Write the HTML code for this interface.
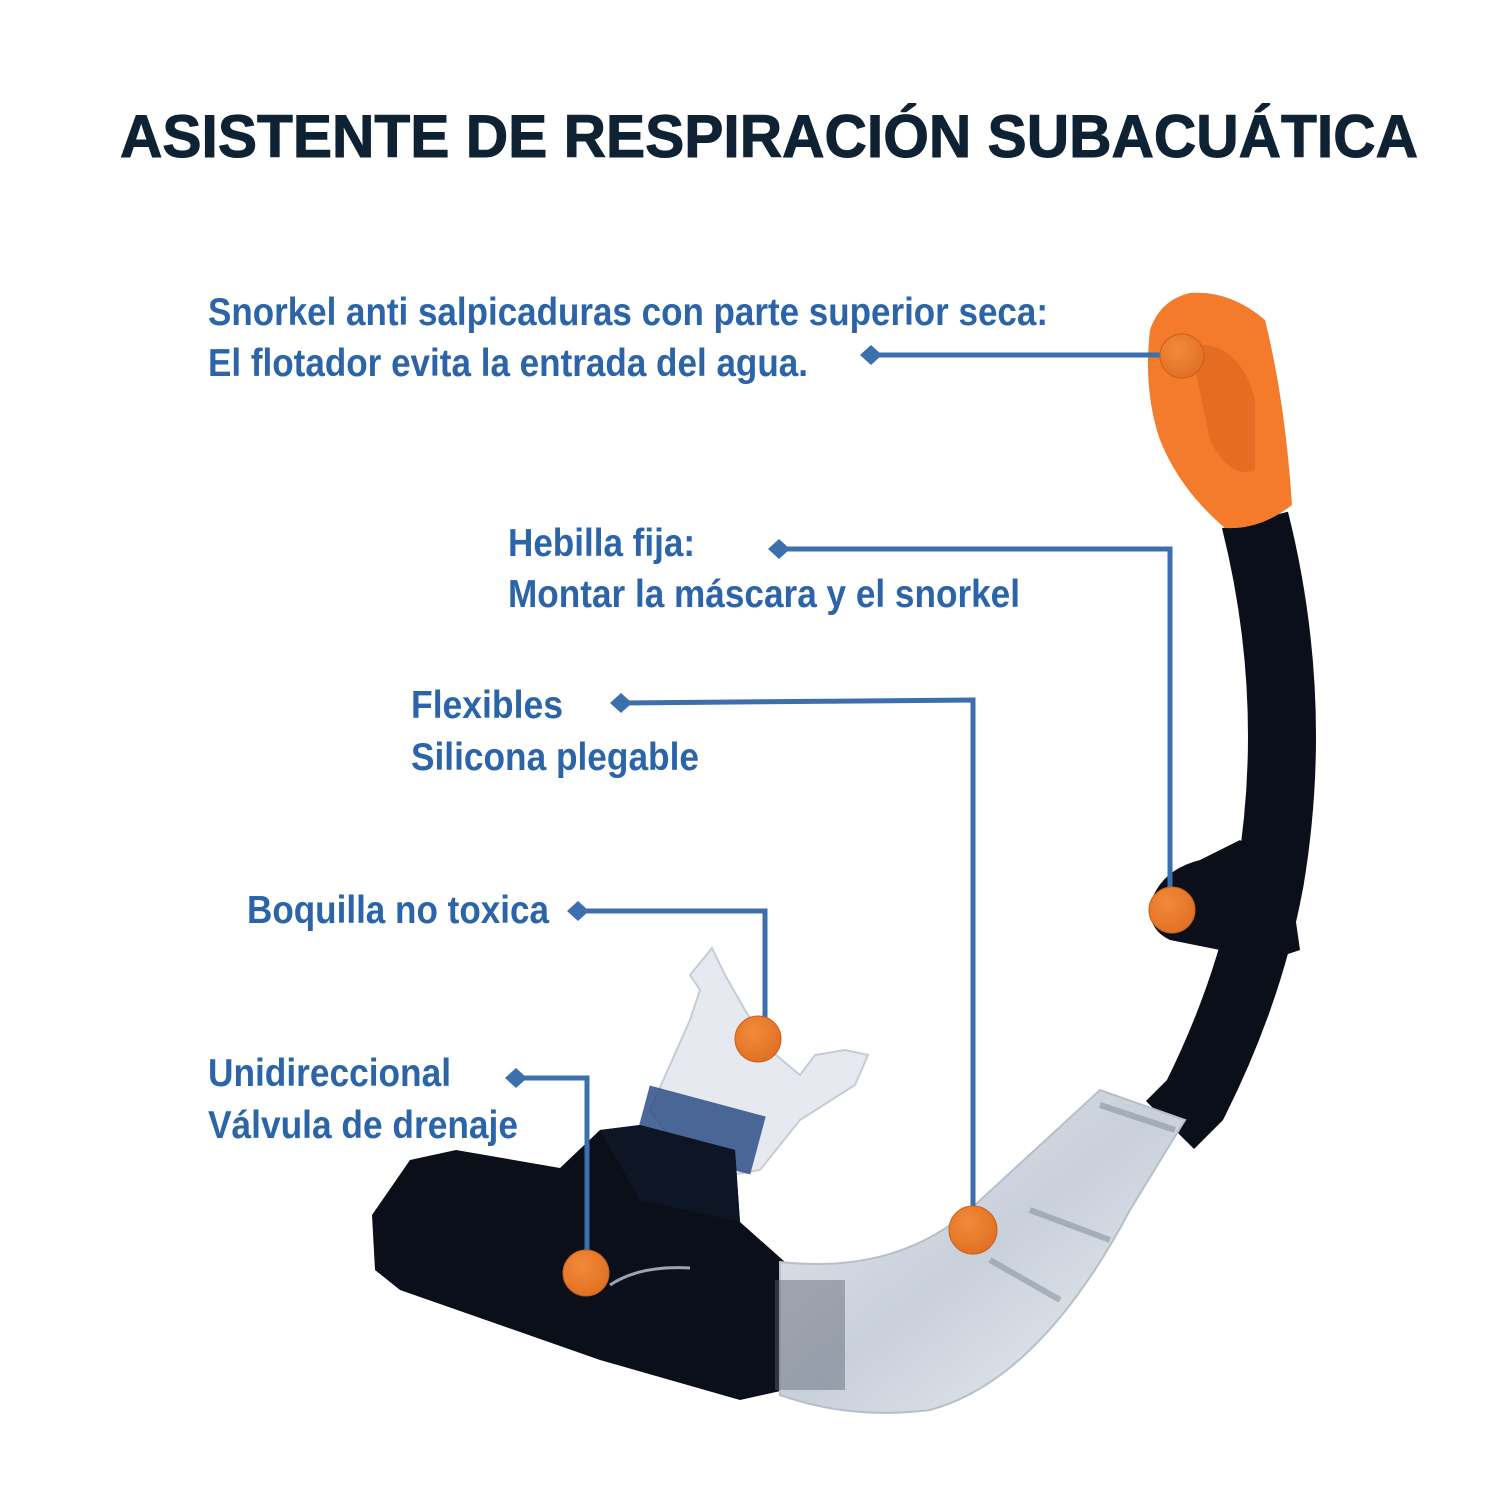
<!DOCTYPE html>
<html><head><meta charset="utf-8"><style>
html,body{margin:0;padding:0;background:#fff;}
svg{display:block;}
.lbl{font-family:"Liberation Sans Narrow","Liberation Sans",sans-serif;font-weight:bold;fill:#2b64a8;font-size:39px;}
</style></head><body>
<svg width="1512" height="1512" viewBox="0 0 1512 1512" xmlns="http://www.w3.org/2000/svg">
<defs>
<linearGradient id="clr" x1="0" y1="0" x2="1" y2="1">
<stop offset="0" stop-color="#e4e8ee"/><stop offset="0.5" stop-color="#c9d0da"/><stop offset="1" stop-color="#eef1f5"/>
</linearGradient>
<radialGradient id="dot" cx="0.4" cy="0.35" r="0.7">
<stop offset="0" stop-color="#f28a3a"/><stop offset="1" stop-color="#e06f22"/>
</radialGradient>
</defs>
<text x="120" y="157" textLength="1298" lengthAdjust="spacingAndGlyphs" font-family="Liberation Sans, sans-serif" font-weight="bold" font-size="60" fill="#0f2233" stroke="#0f2233" stroke-width="1">ASISTENTE DE RESPIRACIÓN SUBACUÁTICA</text>

<path d="M650,1110 L690,1020 L700,990 L690,975 L712,948 L725,975 L745,1010 L770,1050 L800,1075 L815,1055 L845,1050 L868,1055 L855,1085 L800,1120 L760,1170 L700,1180 Z" fill="#e6eaf0" stroke="#c5ccd6" stroke-width="2"/>
<rect x="640" y="1100" width="120" height="60" fill="#2d4f86" transform="rotate(15 700 1130)" opacity="0.85"/>
<path d="M372,1215 L410,1160 L456,1150 L560,1168 L600,1130 L640,1125 L735,1150 L740,1222 L785,1262 L785,1390 L740,1400 L600,1360 L400,1290 L375,1270 Z" fill="#0b0f1a"/>
<path d="M600,1130 L640,1125 L735,1150 L740,1222 L640,1200 Z" fill="#0e1524"/>
<path d="M610,1285 Q640,1265 690,1268" stroke="#9aa4b4" stroke-width="3" fill="none"/>
<path d="M1255,520 Q1300,700 1270,880 Q1250,990 1195,1100 L1170,1125" stroke="#0b0f1a" stroke-width="68" fill="none"/>
<path d="M1150,905 Q1160,870 1200,860 L1240,840 L1290,880 L1300,950 L1270,960 L1170,940 Q1148,930 1150,905 Z" fill="#0b0f1a"/>
<path d="M780,1262 Q900,1275 975,1205 L1100,1090 L1185,1120 L1130,1210 Q1040,1380 930,1410 Q850,1420 780,1395 Z" fill="url(#clr)" stroke="#b7bfcb" stroke-width="2"/>
<path d="M1100,1105 L1175,1130 M1030,1210 L1110,1240 M990,1260 L1060,1300" stroke="#7b8596" stroke-width="6" fill="none" opacity="0.5"/>
<rect x="775" y="1280" width="70" height="110" fill="#5a6272" opacity="0.45"/>
<path d="M1190,293 Q1230,290 1265,320 Q1285,400 1292,505 Q1260,530 1225,528 Q1180,490 1160,440 Q1143,390 1150,330 Q1160,300 1190,293 Z" fill="#f47a2c"/>
<path d="M1190,345 Q1240,340 1255,400 L1255,470 Q1230,480 1210,440 Z" fill="#d9621a" opacity="0.55"/>
<g stroke="#3b6fae" stroke-width="5" fill="none">
<path d="M870,355 L1165,355"/>
<path d="M778,549 L1170,549 L1170,895"/>
<path d="M620,703 L973,700 L973,1215"/>
<path d="M577,911 L765,911 L765,1025"/>
<path d="M515,1078 L587,1078 L587,1260"/>
</g>
<g fill="#3b6fae">
<path d="M860,355 l11,-10 l11,10 l-11,10 z"/>
<path d="M768,549 l11,-10 l11,10 l-11,10 z"/>
<path d="M610,703 l11,-10 l11,10 l-11,10 z"/>
<path d="M567,911 l11,-10 l11,10 l-11,10 z"/>
<path d="M505,1078 l11,-10 l11,10 l-11,10 z"/>
</g>
<g fill="url(#dot)" stroke="#c8601c" stroke-width="1">
<circle cx="1182" cy="356" r="22"/>
<circle cx="1172" cy="910" r="23"/>
<circle cx="758" cy="1039" r="23"/>
<circle cx="973" cy="1230" r="24"/>
<circle cx="586" cy="1273" r="23"/>
</g>
<text class="lbl" x="208" y="325" textLength="840" lengthAdjust="spacingAndGlyphs">Snorkel anti salpicaduras con parte superior seca:</text>
<text class="lbl" x="208" y="376" textLength="600" lengthAdjust="spacingAndGlyphs">El flotador evita la entrada del agua.</text>
<text class="lbl" x="508" y="556" textLength="187" lengthAdjust="spacingAndGlyphs">Hebilla fija:</text>
<text class="lbl" x="508" y="607" textLength="512" lengthAdjust="spacingAndGlyphs">Montar la máscara y el snorkel</text>
<text class="lbl" x="411" y="718" textLength="152" lengthAdjust="spacingAndGlyphs">Flexibles</text>
<text class="lbl" x="411" y="770" textLength="288" lengthAdjust="spacingAndGlyphs">Silicona plegable</text>
<text class="lbl" x="247" y="923" textLength="302" lengthAdjust="spacingAndGlyphs">Boquilla no toxica</text>
<text class="lbl" x="208" y="1086" textLength="243" lengthAdjust="spacingAndGlyphs">Unidireccional</text>
<text class="lbl" x="208" y="1138" textLength="310" lengthAdjust="spacingAndGlyphs">Válvula de drenaje</text>
</svg>
</body></html>
